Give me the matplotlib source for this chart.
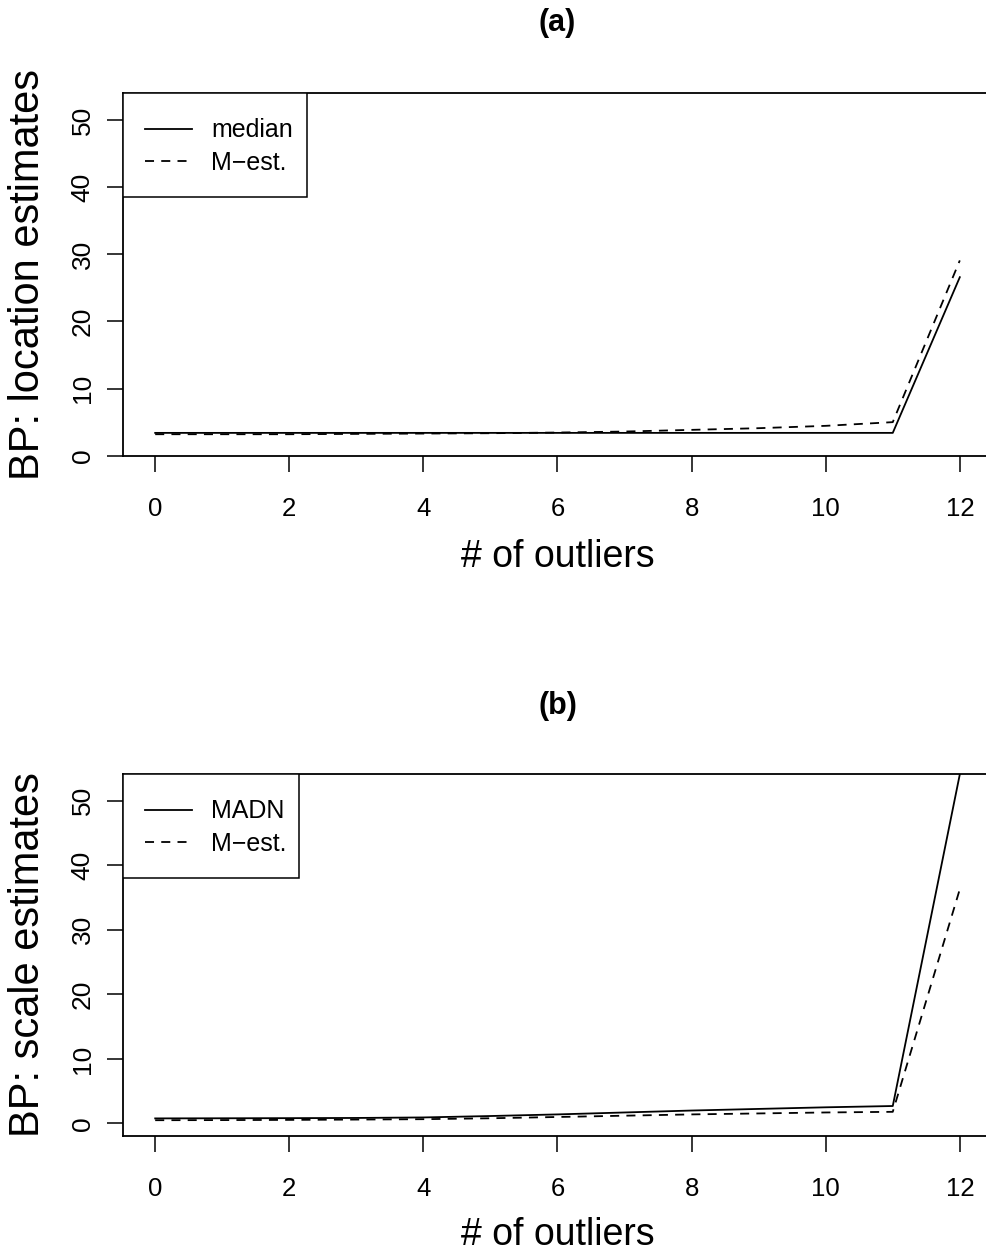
import numpy as np
import matplotlib
matplotlib.use("Agg")
import matplotlib.pyplot as plt
from matplotlib.patches import Rectangle

plt.rcParams["font.family"] = ["Liberation Sans", "DejaVu Sans"]

# number of outliers added
n_out = list(range(13))

# (a) location estimates
loc_median = [3.4, 3.4, 3.4, 3.4, 3.4, 3.4, 3.4, 3.4, 3.4, 3.4, 3.4, 3.4, 26.6]
loc_mest = [3.2, 3.2, 3.2, 3.25, 3.3, 3.35, 3.45, 3.6, 3.85, 4.1, 4.45, 5.0, 29.1]

# (b) scale estimates
sc_madn = [0.78, 0.8, 0.82, 0.85, 0.93, 1.15, 1.4, 1.7, 2.0, 2.25, 2.5, 2.7, 54.1]
sc_mest = [0.5, 0.52, 0.55, 0.6, 0.66, 0.8, 1.0, 1.2, 1.4, 1.55, 1.7, 1.8, 36.3]

yticks = [0, 10, 20, 30, 40, 50]
xticks = [0, 2, 4, 6, 8, 10, 12]

W, H = 987, 1256
fig = plt.figure(figsize=(W / 100, H / 100), dpi=100)


def px_axes(left, top, right, bottom):
    return fig.add_axes([left / W, 1 - bottom / H, (right - left) / W, (bottom - top) / H])


panels = [
    dict(box=(123, 93.3, 992, 455.7), ylim=(0, 54.0), title="(a)", title_y=23,
         xlab_y=557, ylab="BP: location estimates", leg_w=184,
         series=[(loc_median, "median", "-"), (loc_mest, "M\u2212est.", "--")]),
    dict(box=(123, 774.3, 992, 1135.7), ylim=(-1.9, 54.1), title="(b)", title_y=706,
         xlab_y=1235, ylab="BP: scale estimates", leg_w=176,
         series=[(sc_madn, "MADN", "-"), (sc_mest, "M\u2212est.", "--")]),
]

for p in panels:
    ax = px_axes(*p["box"])
    ax_w = p["box"][2] - p["box"][0]
    ax_h = p["box"][3] - p["box"][1]
    for vals, lab, ls in p["series"]:
        if ls == "--":
            ax.plot(n_out, vals, color="black", lw=1.3, ls="--", dashes=(5, 4), label=lab)
        else:
            ax.plot(n_out, vals, color="black", lw=1.3, label=lab)
    ax.set_xlim(-0.48, 12.48)
    ax.set_ylim(*p["ylim"])
    ax.set_xticks(xticks)
    ax.set_yticks(yticks)
    for s in ax.spines.values():
        s.set_linewidth(1.3)
    ax.tick_params(direction="out", length=11.5, width=1.1)
    ax.tick_params(axis="x", pad=18, labelsize=18.5)
    ax.tick_params(axis="y", pad=9, labelsize=19)
    for t in ax.get_yticklabels():
        t.set_rotation(90)
        t.set_va("center")

    # legend entries without frame, frame drawn separately (R-style tight box)
    ax.legend(loc="upper left", bbox_to_anchor=(22 / ax_w, 1 - 25 / ax_h),
              fontsize=18, frameon=False, borderaxespad=0, borderpad=0,
              handlelength=1.9, handletextpad=0.75, labelspacing=0.35)
    ax.add_patch(Rectangle((0, 1 - 104 / ax_h), p["leg_w"] / ax_w, 104 / ax_h,
                           transform=ax.transAxes, facecolor="white",
                           edgecolor="black", lw=1.1, zorder=4))
    ax.get_legend().set_zorder(5)

    cx = (p["box"][0] + p["box"][2]) / 2
    cy = (p["box"][1] + p["box"][3]) / 2
    fig.text(cx / W, 1 - p["title_y"] / H, p["title"], ha="center", va="center",
             fontsize=22, fontweight="bold")
    fig.text(cx / W, 1 - p["xlab_y"] / H, "# of outliers", ha="center", va="center",
             fontsize=27)
    fig.text(28 / W, 1 - cy / H, p["ylab"], ha="center", va="center",
             rotation=90, fontsize=30)

fig.savefig("out.png", dpi=100, facecolor="white")
